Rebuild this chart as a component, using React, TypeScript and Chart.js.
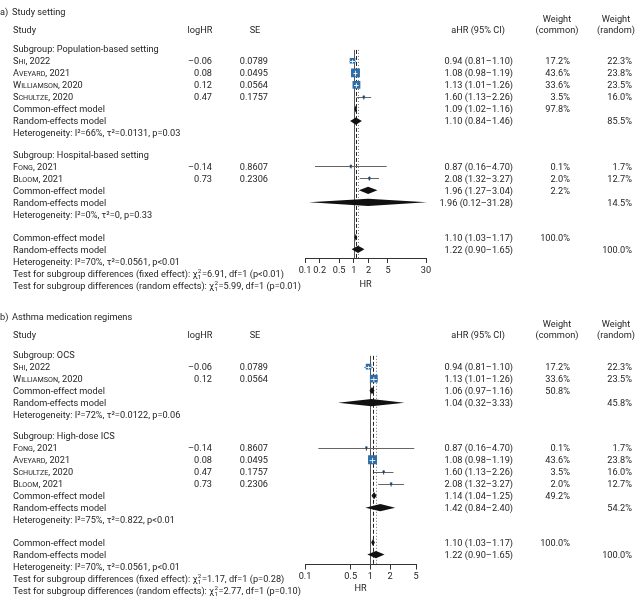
import React, { useEffect, useRef } from 'react';
import { Chart, registerables } from 'chart.js';

Chart.register(...registerables);

// ---------------- data ----------------
const STUDY_NAMES = ['Shi', 'Aveyard', 'Williamson', 'Schultze', 'Fong', 'Bloom'];
const STUDY_YEARS = ['2022', '2021', '2020', '2020', '2021', '2021'];
const LOG_HR = [-0.06, 0.08, 0.12, 0.47, -0.14, 0.73];
const SE = [0.0789, 0.0495, 0.0564, 0.1757, 0.8607, 0.2306];
const HR = [0.94, 1.08, 1.13, 1.6, 0.87, 2.08];
const HR_LOW = [0.81, 0.98, 1.01, 1.13, 0.16, 1.32];
const HR_HIGH = [1.1, 1.19, 1.26, 2.26, 4.7, 3.27];
const WEIGHT_COMMON = [17.2, 43.6, 33.6, 3.5, 0.1, 2.0];
const WEIGHT_RANDOM = [22.3, 23.8, 23.5, 16.0, 1.7, 12.7];

const OVERALL_COMMON = [1.1, 1.03, 1.17];
const OVERALL_RANDOM = [1.22, 0.9, 1.65];
const OVERALL_HET = ['70%', '0.0561', 'p<0.01'];

// panel a
const A_SUBGROUPS = ['Population-based setting', 'Hospital-based setting'];
const A_MEMBERS = [[0, 1, 2, 3], [4, 5]];
const A_COMMON = [[1.09, 1.02, 1.16], [1.96, 1.27, 3.04]];
const A_COMMON_W = [97.8, 2.2];
const A_RANDOM = [[1.1, 0.84, 1.46], [1.96, 0.12, 31.28]];
const A_RANDOM_W = [85.5, 14.5];
const A_HET = [['66%', '0.0131', 'p=0.03'], ['0%', '0', 'p=0.33']];
const A_TEST = [['fixed effect', '6.91', 'p<0.01'], ['random effects', '5.99', 'p=0.01']];
const A_TICKS = [0.1, 0.2, 0.5, 1, 2, 5, 30];

// panel b
const B_SUBGROUPS = ['OCS', 'High-dose ICS'];
const B_MEMBERS = [[0, 2], [4, 1, 3, 5]];
const B_COMMON = [[1.06, 0.97, 1.16], [1.14, 1.04, 1.25]];
const B_COMMON_W = [50.8, 49.2];
const B_RANDOM = [[1.04, 0.32, 3.33], [1.42, 0.84, 2.4]];
const B_RANDOM_W = [45.8, 54.2];
const B_HET = [['72%', '0.0122', 'p=0.06'], ['75%', '0.822', 'p<0.01']];
const B_TEST = [['fixed effect', '1.17', 'p=0.28'], ['random effects', '2.77', 'p=0.10']];
const B_TICKS = [0.1, 0.5, 1, 2, 5];

// ---------------- style / layout ----------------
const FONT = 'Roboto, Lato, sans-serif';
const FS = 9.2;
const TEXT_COLOR = '#1e1e1e';
const SQUARE_COLOR = '#2e6da8';
const CI_COLOR = '#666666';
const DIAMOND_COLOR = '#111111';

const COL = {
  label: 0, title: 12, study: 13,
  logHR: 212, logHRHead: 200, se: 268, seHead: 255,
  ci: 513, ciHead: 478, wc: 570, wcHead: 557, wr: 632, wrHead: 616,
};

type PanelCfg = {
  letter: string; title: string; subgroups: string[]; members: number[][];
  common: number[][]; commonW: number[]; random: number[][]; randomW: number[];
  het: string[][]; test: string[][]; ticks: number[]; xMin: number; xMax: number;
  height: number; row0: number; rowPx: number; axisPx: number; plotLeft: number; plotRight: number;
  titlePad: number; headRows: number[];
};

const PANEL_A: PanelCfg = {
  letter: 'a)', title: 'Study setting', subgroups: A_SUBGROUPS, members: A_MEMBERS,
  common: A_COMMON, commonW: A_COMMON_W, random: A_RANDOM, randomW: A_RANDOM_W,
  het: A_HET, test: A_TEST, ticks: A_TICKS, xMin: 0.1, xMax: 30,
  height: 300, row0: 43.5, rowPx: 12.35, axisPx: 258, plotLeft: 305, plotRight: 426,
  titlePad: 10, headRows: [-3.05, -2.5, -1.55],
};
const PANEL_B: PanelCfg = {
  letter: 'b)', title: 'Asthma medication regimens', subgroups: B_SUBGROUPS, members: B_MEMBERS,
  common: B_COMMON, commonW: B_COMMON_W, random: B_RANDOM, randomW: B_RANDOM_W,
  het: B_HET, test: B_TEST, ticks: B_TICKS, xMin: 0.1, xMax: 5,
  height: 303, row0: 49.5, rowPx: 12.3, axisPx: 264.5, plotLeft: 305, plotRight: 416,
  titlePad: 9, headRows: [-3.2, -2.55, -1.7],
};

function buildRows(c: PanelCfg) {
  const rows: any[] = [];
  let y = 0;
  c.subgroups.forEach((label, g) => {
    rows.push({ kind: 'sub', y, label });
    y += 1;
    c.members[g].forEach((i) => { rows.push({ kind: 'study', y, i }); y += 1; });
    rows.push({ kind: 'common', y, est: c.common[g], w: c.commonW[g] }); y += 1;
    rows.push({ kind: 'random', y, est: c.random[g], w: c.randomW[g] }); y += 1;
    rows.push({ kind: 'het', y, het: c.het[g] });
    y += g < c.subgroups.length - 1 ? 1.75 : 1.9;
  });
  rows.push({ kind: 'common', y, est: OVERALL_COMMON, w: 100 }); y += 1;
  rows.push({ kind: 'random', y, est: OVERALL_RANDOM, w: 100 }); y += 1;
  rows.push({ kind: 'het', y, het: OVERALL_HET }); y += 1;
  c.test.forEach((t) => { rows.push({ kind: 'test', y, test: t }); y += 1; });
  return rows;
}

const f2 = (v: number) => v.toFixed(2);
const fmtLog = (v: number) => (v < 0 ? '\u2013' : '') + Math.abs(v).toFixed(2);
const fmtCI = (e: number[]) => `${f2(e[0])} (${f2(e[1])}\u2013${f2(e[2])})`;
const fmtW = (w: number) => w.toFixed(1) + '%';
const squareSide = (w: number) => Math.max(2.5, 1.35 * Math.sqrt(w));

function setFont(ctx: CanvasRenderingContext2D, size = FS) {
  ctx.font = `${size}px ${FONT}`;
}
function text(ctx: CanvasRenderingContext2D, s: string, x: number, y: number, align: CanvasTextAlign = 'left', size = FS) {
  setFont(ctx, size);
  ctx.textAlign = align;
  ctx.fillText(s, x, y);
  return ctx.measureText(s).width;
}
function smallCaps(ctx: CanvasRenderingContext2D, name: string, x: number, y: number) {
  ctx.textAlign = 'left';
  let w = text(ctx, name[0], x, y);
  const rest = name.slice(1).toUpperCase();
  w += text(ctx, rest, x + w, y, 'left', FS * 0.78);
  return w;
}

function makePlugin(c: PanelCfg, rows: any[]) {
  return {
    id: 'forest',
    beforeDatasetsDraw(chart: any) {
      const { ctx, chartArea } = chart;
      const x = chart.scales.x;
      const y = chart.scales.y;
      ctx.save();
      const top = y.getPixelForValue(0.1);
      const bottom = chartArea.bottom;
      const vline = (v: number, color: string, dash: number[]) => {
        const px = Math.round(x.getPixelForValue(v)) + 0.5;
        ctx.beginPath();
        ctx.setLineDash(dash);
        ctx.strokeStyle = color;
        ctx.lineWidth = 1;
        ctx.moveTo(px, top);
        ctx.lineTo(px, bottom);
        ctx.stroke();
      };
      vline(1, '#555555', []);
      vline(OVERALL_COMMON[0], '#222222', [4, 2]);
      vline(OVERALL_RANDOM[0], '#777777', [1, 2]);
      ctx.setLineDash([]);
      rows.filter((r) => r.kind === 'study').forEach((r) => {
        const py = Math.round(y.getPixelForValue(r.y)) + 0.5;
        ctx.beginPath();
        ctx.strokeStyle = CI_COLOR;
        ctx.lineWidth = 1;
        ctx.moveTo(x.getPixelForValue(HR_LOW[r.i]), py);
        ctx.lineTo(x.getPixelForValue(HR_HIGH[r.i]), py);
        ctx.stroke();
      });
      ctx.restore();
    },
    afterDatasetsDraw(chart: any) {
      const { ctx } = chart;
      const x = chart.scales.x;
      const y = chart.scales.y;
      ctx.save();
      rows.filter((r) => r.kind === 'study').forEach((r) => {
        const side = squareSide(WEIGHT_COMMON[r.i]);
        const py = Math.round(y.getPixelForValue(r.y)) + 0.5;
        const cx = x.getPixelForValue(HR[r.i]);
        const big = side >= 5;
        ctx.lineWidth = 1;
        if (big) {
          ctx.strokeStyle = 'rgba(255,255,255,0.85)';
          const l = Math.max(x.getPixelForValue(HR_LOW[r.i]), cx - side / 2);
          const h = Math.min(x.getPixelForValue(HR_HIGH[r.i]), cx + side / 2);
          ctx.beginPath();
          ctx.moveTo(l, py); ctx.lineTo(h, py);
          ctx.moveTo(cx, py - side * 0.3); ctx.lineTo(cx, py + side * 0.3);
          ctx.stroke();
        } else {
          ctx.strokeStyle = '#333333';
          ctx.beginPath();
          ctx.moveTo(cx, py - 2); ctx.lineTo(cx, py + 2);
          ctx.stroke();
        }
      });
      rows.filter((r) => r.kind === 'common' || r.kind === 'random').forEach((r) => {
        const py = y.getPixelForValue(r.y);
        const h = 3.6;
        ctx.beginPath();
        ctx.fillStyle = DIAMOND_COLOR;
        ctx.moveTo(x.getPixelForValue(r.est[1]), py);
        ctx.lineTo(x.getPixelForValue(r.est[0]), py - h);
        ctx.lineTo(x.getPixelForValue(r.est[2]), py);
        ctx.lineTo(x.getPixelForValue(r.est[0]), py + h);
        ctx.closePath();
        ctx.fill();
      });
      ctx.restore();
    },
    afterDraw(chart: any) {
      const { ctx } = chart;
      const y = chart.scales.y;
      ctx.save();
      ctx.fillStyle = TEXT_COLOR;
      ctx.textBaseline = 'alphabetic';
      const base = (v: number) => y.getPixelForValue(v) + 3.4;
      const [hTitle, hW, hHead] = c.headRows;
      text(ctx, c.letter, COL.label, base(hTitle));
      text(ctx, c.title, COL.title, base(hTitle));
      text(ctx, 'Study', COL.study, base(hHead));
      text(ctx, 'logHR', COL.logHRHead, base(hHead), 'center');
      text(ctx, 'SE', COL.seHead, base(hHead), 'center');
      text(ctx, 'aHR (95% CI)', COL.ciHead, base(hHead), 'center');
      text(ctx, 'Weight', COL.wcHead, base(hW), 'center');
      text(ctx, '(common)', COL.wcHead, base(hHead), 'center');
      text(ctx, 'Weight', COL.wrHead, base(hW), 'center');
      text(ctx, '(random)', COL.wrHead, base(hHead), 'center');

      rows.forEach((r) => {
        const by = base(r.y);
        if (r.kind === 'sub') {
          text(ctx, 'Subgroup: ' + r.label, COL.study, by);
        } else if (r.kind === 'study') {
          const w = smallCaps(ctx, STUDY_NAMES[r.i], COL.study, by);
          text(ctx, ', ' + STUDY_YEARS[r.i], COL.study + w, by);
          text(ctx, fmtLog(LOG_HR[r.i]), COL.logHR, by, 'right');
          text(ctx, SE[r.i].toFixed(4), COL.se, by, 'right');
          text(ctx, fmtCI([HR[r.i], HR_LOW[r.i], HR_HIGH[r.i]]), COL.ci, by, 'right');
          text(ctx, fmtW(WEIGHT_COMMON[r.i]), COL.wc, by, 'right');
          text(ctx, fmtW(WEIGHT_RANDOM[r.i]), COL.wr, by, 'right');
        } else if (r.kind === 'common') {
          text(ctx, 'Common-effect model', COL.study, by);
          text(ctx, fmtCI(r.est), COL.ci, by, 'right');
          text(ctx, fmtW(r.w), COL.wc, by, 'right');
        } else if (r.kind === 'random') {
          text(ctx, 'Random-effects model', COL.study, by);
          text(ctx, fmtCI(r.est), COL.ci, by, 'right');
          text(ctx, fmtW(r.w), COL.wr, by, 'right');
        } else if (r.kind === 'het') {
          text(ctx, `Heterogeneity: I\u00b2=${r.het[0]}, \u03c4\u00b2=${r.het[1]}, ${r.het[2]}`, COL.study, by);
        } else if (r.kind === 'test') {
          let xx = COL.study;
          xx += text(ctx, `Test for subgroup differences (${r.test[0]}): \u03c7`, xx, by);
          const s1 = text(ctx, '2', xx + 0.3, by - 3.6, 'left', FS * 0.68);
          const s2 = text(ctx, '1', xx + 0.3, by + 2.4, 'left', FS * 0.68);
          xx += Math.max(s1, s2) + 0.8;
          text(ctx, `=${r.test[1]}, df=1 (${r.test[2]})`, xx, by);
        }
      });
      ctx.restore();
    },
  };
}

function Panel({ cfg }: { cfg: PanelCfg }) {
  const ref = useRef<HTMLCanvasElement>(null);
  useEffect(() => {
    const rows = buildRows(cfg);
    const studyRows = rows.filter((r) => r.kind === 'study');
    const yMin = -cfg.row0 / cfg.rowPx;
    const yMax = (cfg.axisPx - cfg.row0) / cfg.rowPx;
    const chart = new Chart(ref.current as HTMLCanvasElement, {
      type: 'scatter',
      data: {
        datasets: [{
          data: studyRows.map((r) => ({ x: HR[r.i], y: r.y })),
          pointStyle: 'rect',
          pointRadius: studyRows.map((r) => squareSide(WEIGHT_COMMON[r.i]) / Math.SQRT2),
          pointBackgroundColor: SQUARE_COLOR,
          pointBorderWidth: 0,
          pointBorderColor: SQUARE_COLOR,
        } as any],
      },
      options: {
        animation: false,
        responsive: false,
        events: [],
        layout: { padding: { left: cfg.plotLeft, right: 640 - cfg.plotRight, top: 0, bottom: 0 } },
        plugins: { legend: { display: false }, tooltip: { enabled: false }, title: { display: false } },
        scales: {
          x: {
            type: 'logarithmic',
            position: 'bottom',
            min: cfg.xMin,
            max: cfg.xMax,
            afterBuildTicks: (s: any) => { s.ticks = cfg.ticks.map((v) => ({ value: v })); },
            afterFit: (s: any) => { s.height = cfg.height - cfg.axisPx; },
            ticks: {
              autoSkip: false, maxRotation: 0, minRotation: 0, padding: 2,
              color: TEXT_COLOR, font: { family: FONT, size: FS },
              callback: (v: any) => String(v),
            },
            grid: { display: true, drawOnChartArea: false, drawTicks: true, tickLength: 5, color: '#333333', lineWidth: 1 },
            border: { display: true, color: '#333333', width: 1 },
            title: { display: true, text: 'HR', color: TEXT_COLOR, font: { family: FONT, size: FS }, padding: { top: 0, bottom: cfg.titlePad } },
          },
          y: { type: 'linear', display: false, reverse: true, min: yMin, max: yMax },
        },
      } as any,
      plugins: [makePlugin(cfg, rows)],
    });
    return () => chart.destroy();
  }, []);
  return <canvas ref={ref} width={640} height={cfg.height} style={{ display: 'block' }} />;
}

export default function App() {
  useEffect(() => {
    document.body.style.margin = '0';
    document.body.style.background = '#ffffff';
  }, []);
  return (
    <div style={{ width: 640, background: '#fff' }}>
      <Panel cfg={PANEL_A} />
      <Panel cfg={PANEL_B} />
    </div>
  );
}
